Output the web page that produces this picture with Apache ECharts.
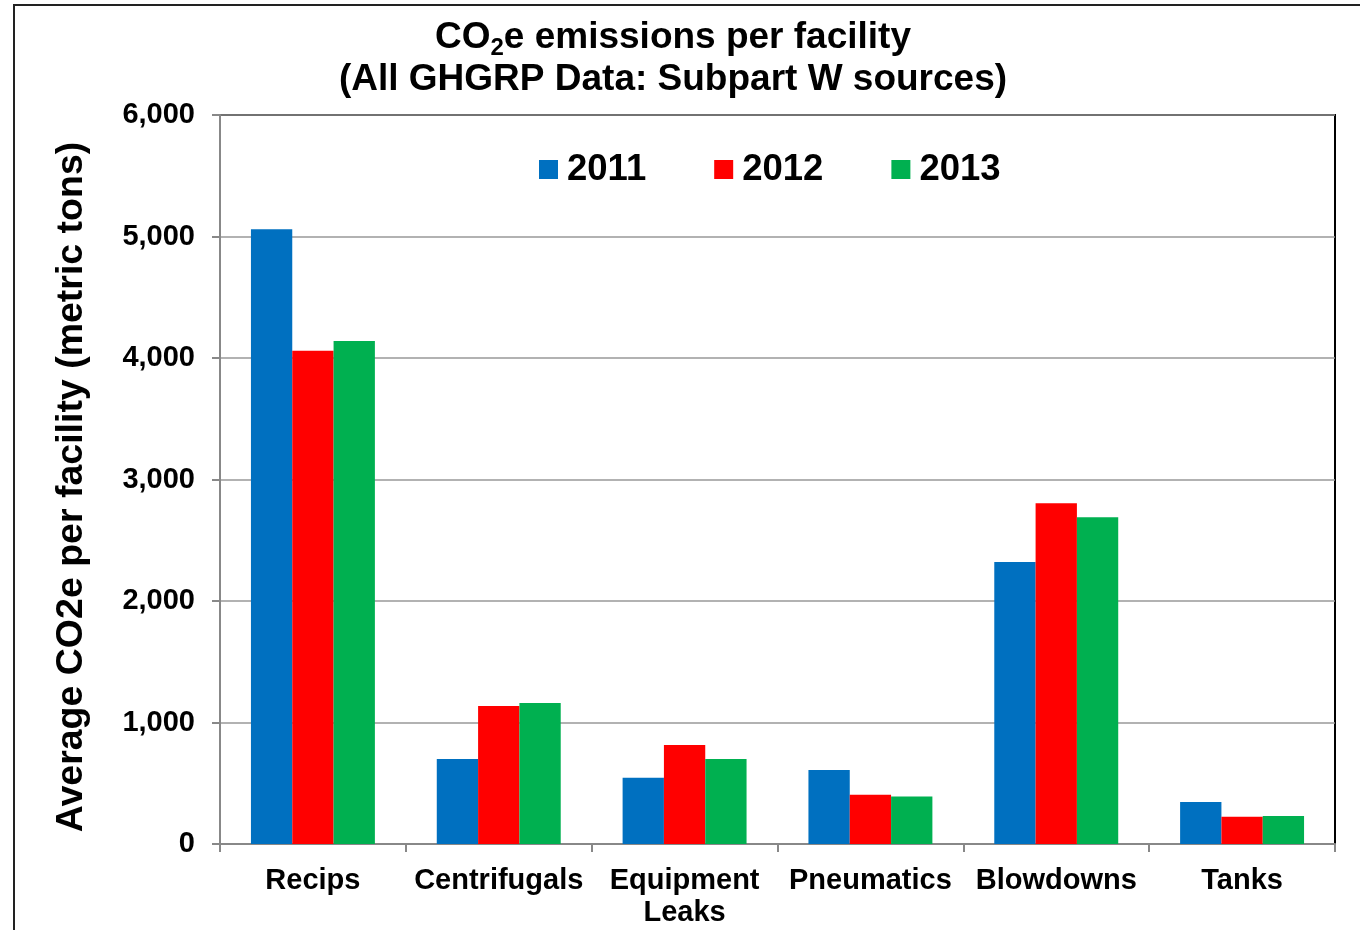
<!DOCTYPE html>
<html>
<head>
<meta charset="utf-8">
<script src="https://cdn.jsdelivr.net/npm/echarts@6/dist/echarts.min.js"></script>
<style>
	html, body { margin: 0; padding: 0; background: #fff; }
	#chart { width: 1360px; height: 930px; }
</style>
</head>
<body>
<div id="chart"></div>
<script>
	//数据
	var categories = ['Recips', 'Centrifugals', 'Equipment\nLeaks', 'Pneumatics', 'Blowdowns', 'Tanks'];
	var years = ['2011', '2012', '2013'];
	var data2011 = [5060, 700, 545, 610, 2320, 345];
	var data2012 = [4060, 1135, 815, 405, 2805, 225];
	var data2013 = [4140, 1160, 700, 390, 2690, 230];
	var yTicks = [0, 1000, 2000, 3000, 4000, 5000, 6000];
	var colors = ['#0070C0', '#FF0000', '#00B050'];

	var font = 'Arial, "Liberation Sans", sans-serif';
	var myChart = echarts.init(document.getElementById('chart'));

	var seriesData = [data2011, data2012, data2013];
	var series = [];
	for (var i = 0; i < years.length; i++) {
		series.push({
			name: years[i],
			type: 'bar',
			barGap: '0%',
			barCategoryGap: '33.3%',
			itemStyle: { color: colors[i] },
			data: seriesData[i]
		});
	}

	var option = {
		animation: false,
		backgroundColor: '#fff',
		textStyle: { fontFamily: font },
		graphic: [{
			type: 'rect',
			shape: { x: 14, y: 5, width: 1400, height: 1000 },
			style: { fill: 'none', stroke: '#222', lineWidth: 2 },
			z: 0
		}, {
			//标题（CO2 下标）
			type: 'text',
			x: 673,
			y: 38,
			style: {
				text: '{t|CO}{s|2}{t|e emissions per facility}',
				align: 'center',
				verticalAlign: 'middle',
				rich: {
					t: { fontSize: 37, fontWeight: 'bold', fontFamily: font, fill: '#000' },
					s: { fontSize: 24, fontWeight: 'bold', fontFamily: font, fill: '#000', padding: [20, 0, 0, 0] }
				}
			}
		}, {
			type: 'text',
			x: 673,
			y: 80,
			style: {
				text: '(All GHGRP Data: Subpart W sources)',
				align: 'center',
				verticalAlign: 'middle',
				fontSize: 37,
				fontWeight: 'bold',
				fontFamily: font,
				fill: '#000'
			}
		}, {
			//纵轴标题
			type: 'text',
			x: 72,
			y: 487,
			rotation: Math.PI / 2,
			style: {
				text: 'Average CO2e per facility (metric tons)',
				align: 'center',
				verticalAlign: 'middle',
				fontSize: 37.5,
				fontWeight: 'bold',
				fontFamily: font,
				fill: '#000'
			}
		}],
		legend: {
			data: years,
			left: 539,
			top: 151,
			padding: 0,
			icon: 'rect',
			itemWidth: 19,
			itemHeight: 19,
			itemGap: 68,
			textStyle: { fontSize: 36.5, fontWeight: 'bold', color: '#000', fontFamily: font, padding: [0, 0, 0, 4] }
		},
		grid: {
			left: 220,
			right: 25,
			top: 115,
			bottom: 86,
			show: true,
			borderColor: '#000',
			borderWidth: 2
		},
		xAxis: {
			type: 'category',
			data: categories,
			axisLine: { lineStyle: { color: '#888', width: 2 } },
			axisTick: { show: true, length: 8, inside: false, lineStyle: { color: '#888', width: 2 } },
			axisLabel: {
				margin: 21,
				fontSize: 29,
				fontWeight: 'bold',
				color: '#000',
				lineHeight: 32,
				fontFamily: font,
				interval: 0
			}
		},
		yAxis: {
			type: 'value',
			min: yTicks[0],
			max: yTicks[yTicks.length - 1],
			interval: 1000,
			axisLine: { show: true, lineStyle: { color: '#888', width: 2 } },
			axisTick: { show: true, length: 8, lineStyle: { color: '#888', width: 2 } },
			splitLine: { show: true, lineStyle: { color: '#999', width: 1.5 } },
			axisLabel: {
				margin: 25,
				fontSize: 29,
				fontWeight: 'bold',
				color: '#000',
				fontFamily: font,
				formatter: function (v) { return v.toLocaleString('en-US'); }
			}
		},
		series: series
	};
	myChart.setOption(option);
</script>
</body>
</html>
